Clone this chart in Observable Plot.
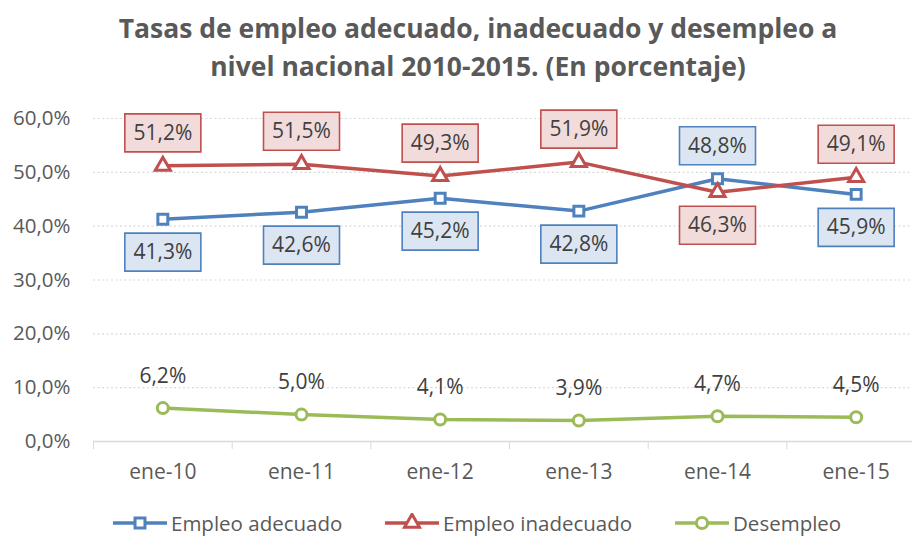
<!DOCTYPE html>
<html><head><meta charset="utf-8">
<script src="https://cdn.jsdelivr.net/npm/d3@7"></script>
<script src="https://cdn.jsdelivr.net/npm/@observablehq/plot@0.6"></script>
<style>
body{margin:0;background:#fff;font-family:"Open Sans",sans-serif;}
#wrap{position:relative;width:912px;height:536px;overflow:hidden;background:#fff}
#title{position:absolute;top:9px;left:44px;right:0;text-align:center;font-weight:bold;font-size:26.5px;line-height:38px;color:#595959}
#chart{position:absolute;top:90px;left:0}
.leg{position:absolute;top:511px;height:24px;line-height:24px;display:flex;align-items:center;font-size:20.5px;color:#595959;white-space:nowrap}
.leg svg{margin-right:4px}
</style></head>
<body>
<div id="wrap">
  <div id="title">Tasas de empleo adecuado, inadecuado y desempleo a<br>nivel nacional 2010-2015. (En porcentaje)</div>
  <div id="chart"></div>
  <div id="legend"></div>
</div>
<script>
const categories = ["ene-10","ene-11","ene-12","ene-13","ene-14","ene-15"];
const seriesNames = ["Empleo adecuado","Empleo inadecuado","Desempleo"];
const adecuado = [41.3, 42.6, 45.2, 42.8, 48.8, 45.9];
const inadecuado = [51.2, 51.5, 49.3, 51.9, 46.3, 49.1];
const desempleo = [6.2, 5.0, 4.1, 3.9, 4.7, 4.5];
const yTicks = [0, 10, 20, 30, 40, 50, 60];

const colors = {"Empleo adecuado":"#4f81bd","Empleo inadecuado":"#c0504d","Desempleo":"#9bbb59"};
const fills = {"Empleo adecuado":"#dce6f2","Empleo inadecuado":"#f2dcdb"};
const symbols = {"Empleo adecuado":"square","Empleo inadecuado":"triangle","Desempleo":"circle"};
const fmt = v => v.toFixed(1).replace(".", ",") + "%";

const valuesBy = {"Empleo adecuado":adecuado,"Empleo inadecuado":inadecuado,"Desempleo":desempleo};
const data = [];
for (const s of seriesNames) {
  valuesBy[s].forEach((v, i) => {
    let side = -1;
    if (s === "Empleo adecuado") side = adecuado[i] > inadecuado[i] ? -1 : 1;
    if (s === "Empleo inadecuado") side = inadecuado[i] > adecuado[i] ? -1 : 1;
    data.push({series: s, i, value: v, side});
  });
}

const boxSymbol = {draw(ctx){ ctx.moveTo(-38,-19); ctx.lineTo(38,-19); ctx.lineTo(38,19); ctx.lineTo(-38,19); ctx.closePath(); }};

const marks = [
  Plot.ruleY(yTicks.filter(d => d > 0), {stroke:"#d9d9d9", strokeDasharray:"2,2.5", strokeWidth:1.2}),
  Plot.axisY({ticks: yTicks, tickSize:0, tickPadding:23, tickFormat: fmt, fill:"#595959", label:null, fontSize:20.5}),
  Plot.ruleY([0], {stroke:"#d9d9d9", strokeWidth:1.3}),
  Plot.axisX({ticks: d3.range(-0.5, 6, 1), tickSize:8, tickFormat: () => "", stroke:"#d9d9d9", label:null}),
  Plot.axisX({ticks: d3.range(6), tickSize:0, tickPadding:23, tickFormat: i => categories[i], fill:"#595959", label:null, fontSize:21})
];
for (const s of seriesNames) {
  const d = data.filter(e => e.series === s);
  marks.push(Plot.line(d, {x:"i", y:"value", stroke: colors[s], strokeWidth:3.5}));
  marks.push(Plot.dot(d, {x:"i", y:"value", symbol: symbols[s], r: s === "Desempleo" ? 5.5 : 5.6, fill:"white", stroke: colors[s], strokeWidth:3}));
}
for (const s of seriesNames) {
  const d = data.filter(e => e.series === s);
  if (fills[s]) {
    for (const side of [-1, 1]) {
      const dd = d.filter(e => e.side === side);
      marks.push(Plot.dot(dd, {x:"i", y:"value", symbol: boxSymbol, r: 5, fill: fills[s], stroke: colors[s], strokeWidth:1.6, dy: side * 33}));
      marks.push(Plot.text(dd, {x:"i", y:"value", text: e => fmt(e.value), dy: side * 33, fontSize:21, fill:"#404040"}));
    }
  } else {
    marks.push(Plot.text(d, {x:"i", y:"value", text: e => fmt(e.value), dy: -32, fontSize:21, fill:"#404040"}));
  }
}

const chart = Plot.plot({
  width: 912, height: 400,
  marginTop: 28, marginBottom: 49, marginLeft: 93, marginRight: 0,
  x: {domain: [-0.5, 5.5], range: [93, 925]},
  y: {domain: [0, 60]},
  style: {fontFamily: '"Open Sans", sans-serif', fontSize: "20px", color: "#595959", overflow: "visible", background: "transparent"},
  marks
});
document.getElementById("chart").appendChild(chart);

// legend
const legX = [113, 385, 675];
const legend = document.getElementById("legend");
const symMap = {square: d3.symbolSquare, triangle: d3.symbolTriangle, circle: d3.symbolCircle};
seriesNames.forEach((s, k) => {
  const path = d3.symbol(symMap[symbols[s]], Math.PI * 5.6 * 5.6)();
  const div = document.createElement("div");
  div.className = "leg";
  div.style.left = legX[k] + "px";
  div.innerHTML = `<svg width="54" height="20"><line x1="0" x2="54" y1="10" y2="10" stroke="${colors[s]}" stroke-width="3.5"/>` +
    `<path d="${path}" transform="translate(27,10)" fill="white" stroke="${colors[s]}" stroke-width="3"/></svg><span>${s}</span>`;
  legend.appendChild(div);
});
</script>
</body></html>
